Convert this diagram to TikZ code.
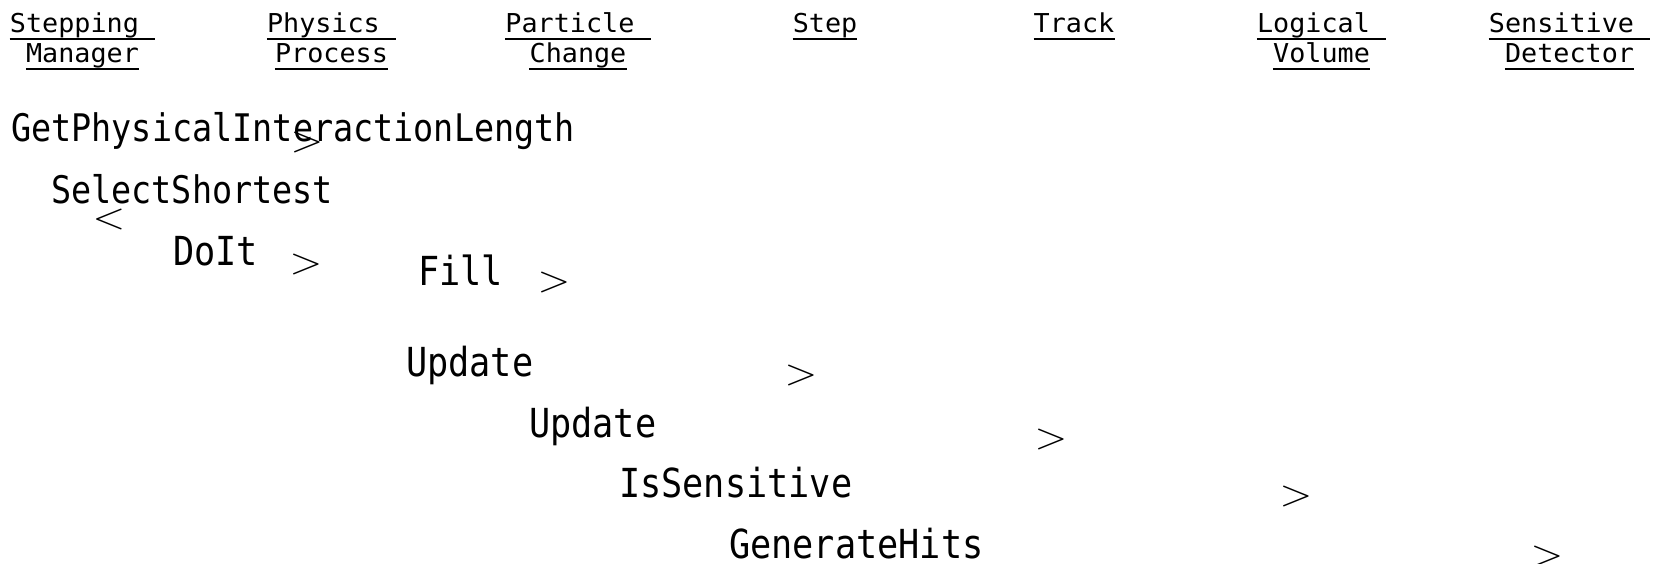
\documentclass[tikz,border=0pt]{standalone}
\usepackage{fontspec}
\newfontfamily\hdrfont[FakeStretch=1.03]{DejaVu Sans Mono}
\newfontfamily\bodyfont[FakeStretch=0.88]{DejaVu Sans Mono}
\newcommand{\gtsign}{\scalebox{4.2}[3.6]{$>$}}
\newcommand{\ltsign}{\scalebox{4.2}[3.6]{$<$}}
\begin{document}
\begin{tikzpicture}[x=1pt, y=-1pt,
    hdr/.style={inner sep=0, anchor=base, text depth=6pt, font=\hdrfont\fontsize{26}{28}\selectfont},
    callS/.style={inner sep=0, anchor=base west, font=\bodyfont\fontsize{38}{40}\selectfont},
    call/.style={inner sep=0, anchor=base west, font=\bodyfont\fontsize{40}{42}\selectfont},
    msg/.style={inner sep=0, anchor=north west},
    ul/.style={line width=2.6pt}]
            \useasboundingbox (0,0) rectangle (1654,564);

            % Intestazioni
            \node[hdr] (smA) at (82.5,33) {Stepping\phantom{x}};
            \node[hdr] (smB) at (82.5,63) {Manager};
            \node[hdr] (ppA) at (331.5,33) {Physics\phantom{x}};
            \node[hdr] (ppB) at (331.5,63) {Process};
            \node[hdr] (pcA) at (578,33) {Particle\phantom{x}};
            \node[hdr] (pcB) at (578,63) {Change};
            \node[hdr] (stA) at (825,33) {Step};
            \node[hdr] (trA) at (1074,33) {Track};
            \node[hdr] (lvA) at (1321.5,33) {Logical\phantom{x}};
            \node[hdr] (lvB) at (1321.5,63) {Volume};
            \node[hdr] (sdA) at (1569.5,33) {Sensitive\phantom{x}};
            \node[hdr] (sdB) at (1569.5,63) {Detector};
            \foreach \n in {smA,smB,ppA,ppB,pcA,pcB,stA,trA,lvA,lvB,sdA,sdB}
                \draw[ul] (\n.south west) -- (\n.south east);

            % Chiamate
            \node[callS] (gpil) at (11,142) {GetPhysicalInteractionLength};
            \node[callS] (sel) at (51,204) {SelectShortest};
            \node[call] (doit) at (173,265) {DoIt};
            \node[call] (fill) at (418,285) {Fill};
            \node[call] (updA) at (406,376) {Update};
            \node[call] (updB) at (529,437) {Update};
            \node[call] (issd) at (619,497) {IsSensitive};
            \node[call] (gen) at (729,558) {GenerateHits};

            % Messaggi
            \node[msg] (mA) at (290.5,132) {\gtsign};
            \node[msg] (mB) at (92.5,209) {\ltsign};
            \node[msg] (mC) at (289.5,254) {\gtsign};
            \node[msg] (mD) at (537.5,272) {\gtsign};
            \node[msg] (mE) at (784.5,365) {\gtsign};
            \node[msg] (mF) at (1034.5,429) {\gtsign};
            \node[msg] (mG) at (1279.5,486) {\gtsign};
            \node[msg] (mH) at (1530.5,546) {\gtsign};
        \end{tikzpicture}
\end{document}
